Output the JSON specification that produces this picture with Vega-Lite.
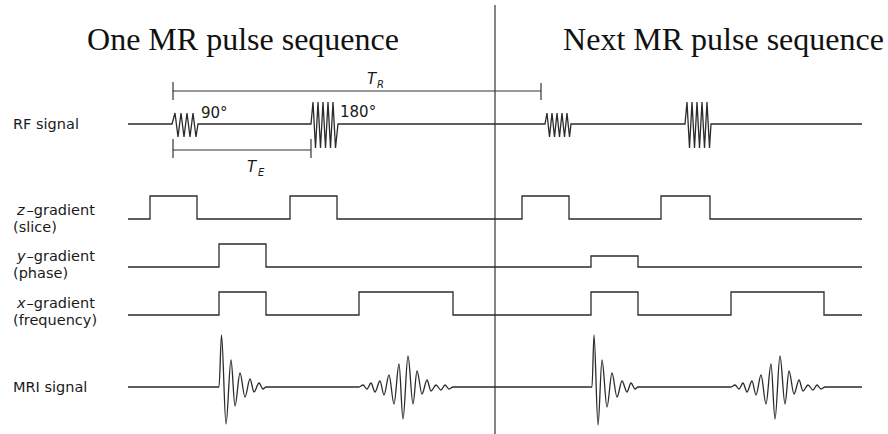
{
  "$schema": "https://vega.github.io/schema/vega-lite/v6.json",
  "width": 888,
  "height": 434,
  "padding": 0,
  "autosize": {"type": "none"},
  "background": "white",
  "config": {"view": {"stroke": null}, "axis": {"disable": true}},
  "datasets": {
    "guides": [
      {"part": "divider", "t": 495, "v": 5, "t2": 495, "v2": 434},
      {"part": "TR span", "t": 173, "v": 91, "t2": 541, "v2": 91},
      {"part": "TR start", "t": 173, "v": 82, "t2": 173, "v2": 100},
      {"part": "TR end", "t": 541, "v": 83, "t2": 541, "v2": 100},
      {"part": "TE span", "t": 173, "v": 150, "t2": 311, "v2": 150},
      {"part": "TE start", "t": 173, "v": 139, "t2": 173, "v2": 158},
      {"part": "TE end", "t": 311, "v": 139, "t2": 311, "v2": 158}
    ],
    "traces": [
      {"trace": "rf", "k": 0, "t": 128, "v": 124},
      {"trace": "rf", "k": 1, "t": 172, "v": 124},
      {"trace": "rf", "k": 2, "t": 175, "v": 113},
      {"trace": "rf", "k": 3, "t": 178, "v": 137},
      {"trace": "rf", "k": 4, "t": 181, "v": 113},
      {"trace": "rf", "k": 5, "t": 184, "v": 137},
      {"trace": "rf", "k": 6, "t": 187, "v": 113},
      {"trace": "rf", "k": 7, "t": 190, "v": 137},
      {"trace": "rf", "k": 8, "t": 193, "v": 113},
      {"trace": "rf", "k": 9, "t": 196, "v": 137},
      {"trace": "rf", "k": 10, "t": 198, "v": 124},
      {"trace": "rf", "k": 11, "t": 311, "v": 124},
      {"trace": "rf", "k": 12, "t": 313, "v": 102},
      {"trace": "rf", "k": 13, "t": 315.5, "v": 148},
      {"trace": "rf", "k": 14, "t": 318, "v": 102},
      {"trace": "rf", "k": 15, "t": 320.5, "v": 148},
      {"trace": "rf", "k": 16, "t": 323, "v": 102},
      {"trace": "rf", "k": 17, "t": 325.5, "v": 148},
      {"trace": "rf", "k": 18, "t": 328, "v": 102},
      {"trace": "rf", "k": 19, "t": 330.5, "v": 148},
      {"trace": "rf", "k": 20, "t": 333, "v": 102},
      {"trace": "rf", "k": 21, "t": 335.5, "v": 148},
      {"trace": "rf", "k": 22, "t": 338, "v": 124},
      {"trace": "rf", "k": 23, "t": 545, "v": 124},
      {"trace": "rf", "k": 24, "t": 547, "v": 113},
      {"trace": "rf", "k": 25, "t": 549.5, "v": 137},
      {"trace": "rf", "k": 26, "t": 552, "v": 113},
      {"trace": "rf", "k": 27, "t": 554.5, "v": 137},
      {"trace": "rf", "k": 28, "t": 557, "v": 113},
      {"trace": "rf", "k": 29, "t": 559.5, "v": 137},
      {"trace": "rf", "k": 30, "t": 562, "v": 113},
      {"trace": "rf", "k": 31, "t": 564.5, "v": 137},
      {"trace": "rf", "k": 32, "t": 567, "v": 113},
      {"trace": "rf", "k": 33, "t": 569.5, "v": 137},
      {"trace": "rf", "k": 34, "t": 571, "v": 124},
      {"trace": "rf", "k": 35, "t": 685, "v": 124},
      {"trace": "rf", "k": 36, "t": 687, "v": 102},
      {"trace": "rf", "k": 37, "t": 689.5, "v": 148},
      {"trace": "rf", "k": 38, "t": 692, "v": 102},
      {"trace": "rf", "k": 39, "t": 694.5, "v": 148},
      {"trace": "rf", "k": 40, "t": 697, "v": 102},
      {"trace": "rf", "k": 41, "t": 699.5, "v": 148},
      {"trace": "rf", "k": 42, "t": 702, "v": 102},
      {"trace": "rf", "k": 43, "t": 704.5, "v": 148},
      {"trace": "rf", "k": 44, "t": 707, "v": 102},
      {"trace": "rf", "k": 45, "t": 709.5, "v": 148},
      {"trace": "rf", "k": 46, "t": 711, "v": 124},
      {"trace": "rf", "k": 47, "t": 862, "v": 124},

      {"trace": "z", "k": 0, "t": 128, "v": 219},
      {"trace": "z", "k": 1, "t": 150, "v": 219},
      {"trace": "z", "k": 2, "t": 150, "v": 196},
      {"trace": "z", "k": 3, "t": 197, "v": 196},
      {"trace": "z", "k": 4, "t": 197, "v": 219},
      {"trace": "z", "k": 5, "t": 290, "v": 219},
      {"trace": "z", "k": 6, "t": 290, "v": 196},
      {"trace": "z", "k": 7, "t": 337, "v": 196},
      {"trace": "z", "k": 8, "t": 337, "v": 219},
      {"trace": "z", "k": 9, "t": 522, "v": 219},
      {"trace": "z", "k": 10, "t": 522, "v": 196},
      {"trace": "z", "k": 11, "t": 569, "v": 196},
      {"trace": "z", "k": 12, "t": 569, "v": 219},
      {"trace": "z", "k": 13, "t": 661, "v": 219},
      {"trace": "z", "k": 14, "t": 661, "v": 196},
      {"trace": "z", "k": 15, "t": 710, "v": 196},
      {"trace": "z", "k": 16, "t": 710, "v": 219},
      {"trace": "z", "k": 17, "t": 862, "v": 219},

      {"trace": "y", "k": 0, "t": 128, "v": 267},
      {"trace": "y", "k": 1, "t": 219, "v": 267},
      {"trace": "y", "k": 2, "t": 219, "v": 244},
      {"trace": "y", "k": 3, "t": 266, "v": 244},
      {"trace": "y", "k": 4, "t": 266, "v": 267},
      {"trace": "y", "k": 5, "t": 591, "v": 267},
      {"trace": "y", "k": 6, "t": 591, "v": 256},
      {"trace": "y", "k": 7, "t": 638, "v": 256},
      {"trace": "y", "k": 8, "t": 638, "v": 267},
      {"trace": "y", "k": 9, "t": 862, "v": 267},

      {"trace": "x", "k": 0, "t": 128, "v": 315},
      {"trace": "x", "k": 1, "t": 219, "v": 315},
      {"trace": "x", "k": 2, "t": 219, "v": 292},
      {"trace": "x", "k": 3, "t": 266, "v": 292},
      {"trace": "x", "k": 4, "t": 266, "v": 315},
      {"trace": "x", "k": 5, "t": 359, "v": 315},
      {"trace": "x", "k": 6, "t": 359, "v": 292},
      {"trace": "x", "k": 7, "t": 453, "v": 292},
      {"trace": "x", "k": 8, "t": 453, "v": 315},
      {"trace": "x", "k": 9, "t": 591, "v": 315},
      {"trace": "x", "k": 10, "t": 591, "v": 292},
      {"trace": "x", "k": 11, "t": 638, "v": 292},
      {"trace": "x", "k": 12, "t": 638, "v": 315},
      {"trace": "x", "k": 13, "t": 731, "v": 315},
      {"trace": "x", "k": 14, "t": 731, "v": 292},
      {"trace": "x", "k": 15, "t": 824, "v": 292},
      {"trace": "x", "k": 16, "t": 824, "v": 315},
      {"trace": "x", "k": 17, "t": 862, "v": 315}
    ],
    "mri": [
      {"k": 0, "t": 128, "v": 387},
      {"k": 1, "t": 219, "v": 387},
      {"k": 2, "t": 221.5, "v": 335},
      {"k": 3, "t": 226, "v": 424},
      {"k": 4, "t": 231, "v": 360},
      {"k": 5, "t": 235, "v": 406},
      {"k": 6, "t": 240, "v": 373},
      {"k": 7, "t": 245, "v": 397},
      {"k": 8, "t": 250, "v": 379},
      {"k": 9, "t": 254, "v": 392},
      {"k": 10, "t": 259, "v": 383},
      {"k": 11, "t": 263, "v": 389},
      {"k": 12, "t": 266, "v": 387},
      {"k": 13, "t": 359, "v": 387},
      {"k": 14, "t": 363, "v": 385},
      {"k": 15, "t": 367, "v": 389},
      {"k": 16, "t": 371, "v": 383},
      {"k": 17, "t": 375, "v": 392},
      {"k": 18, "t": 380, "v": 381},
      {"k": 19, "t": 384, "v": 395},
      {"k": 20, "t": 389, "v": 375},
      {"k": 21, "t": 394, "v": 404},
      {"k": 22, "t": 399, "v": 364},
      {"k": 23, "t": 403, "v": 419},
      {"k": 24, "t": 408, "v": 356},
      {"k": 25, "t": 413, "v": 404},
      {"k": 26, "t": 417, "v": 371},
      {"k": 27, "t": 422, "v": 394},
      {"k": 28, "t": 427, "v": 380},
      {"k": 29, "t": 431, "v": 391},
      {"k": 30, "t": 436, "v": 385},
      {"k": 31, "t": 441, "v": 390},
      {"k": 32, "t": 445, "v": 385},
      {"k": 33, "t": 449, "v": 389},
      {"k": 34, "t": 453, "v": 387},
      {"k": 35, "t": 592, "v": 387},
      {"k": 36, "t": 594, "v": 335},
      {"k": 37, "t": 598, "v": 425},
      {"k": 38, "t": 602, "v": 360},
      {"k": 39, "t": 607, "v": 407},
      {"k": 40, "t": 612, "v": 373},
      {"k": 41, "t": 617, "v": 397},
      {"k": 42, "t": 622, "v": 381},
      {"k": 43, "t": 627, "v": 392},
      {"k": 44, "t": 631, "v": 383},
      {"k": 45, "t": 635, "v": 389},
      {"k": 46, "t": 638, "v": 387},
      {"k": 47, "t": 731, "v": 387},
      {"k": 48, "t": 735, "v": 385},
      {"k": 49, "t": 739, "v": 389},
      {"k": 50, "t": 743, "v": 383},
      {"k": 51, "t": 747, "v": 392},
      {"k": 52, "t": 752, "v": 381},
      {"k": 53, "t": 756, "v": 395},
      {"k": 54, "t": 761, "v": 375},
      {"k": 55, "t": 766, "v": 404},
      {"k": 56, "t": 771, "v": 364},
      {"k": 57, "t": 775, "v": 419},
      {"k": 58, "t": 780, "v": 356},
      {"k": 59, "t": 785, "v": 404},
      {"k": 60, "t": 789, "v": 371},
      {"k": 61, "t": 794, "v": 394},
      {"k": 62, "t": 799, "v": 380},
      {"k": 63, "t": 803, "v": 391},
      {"k": 64, "t": 808, "v": 385},
      {"k": 65, "t": 813, "v": 390},
      {"k": 66, "t": 817, "v": 385},
      {"k": 67, "t": 821, "v": 389},
      {"k": 68, "t": 825, "v": 387},
      {"k": 69, "t": 862, "v": 387}
    ],
    "titles": [
      {"label": "One MR pulse sequence", "t": 243, "v": 50},
      {"label": "Next MR pulse sequence", "t": 723.5, "v": 50}
    ],
    "labels": [
      {"label": "RF signal", "t": 13, "v": 129},
      {"label": "–gradient", "t": 26.5, "v": 215},
      {"label": "(slice)", "t": 13, "v": 232},
      {"label": "–gradient", "t": 26.5, "v": 261},
      {"label": "(phase)", "t": 13, "v": 278},
      {"label": "–gradient", "t": 26.5, "v": 308},
      {"label": "(frequency)", "t": 13, "v": 325},
      {"label": "MRI signal", "t": 13, "v": 392}
    ],
    "axisLetters": [
      {"label": "z", "t": 17, "v": 215},
      {"label": "y", "t": 17, "v": 261},
      {"label": "x", "t": 17, "v": 308}
    ],
    "angles": [
      {"label": "90°", "t": 201, "v": 118},
      {"label": "180°", "t": 340, "v": 117}
    ],
    "intervals": [
      {"label": "T", "t": 367, "v": 84},
      {"label": "T", "t": 247, "v": 172}
    ],
    "subscripts": [
      {"label": "R", "t": 377, "v": 88},
      {"label": "E", "t": 258, "v": 176}
    ]
  },
  "encoding": {
    "x": {"field": "t", "type": "quantitative", "scale": {"domain": [0, 888], "nice": false, "zero": false}},
    "y": {"field": "v", "type": "quantitative", "scale": {"domain": [0, 434], "reverse": true, "nice": false, "zero": false}}
  },
  "layer": [
    {
      "data": {"name": "guides"},
      "mark": {"type": "rule", "color": "#333333", "strokeWidth": 1.2},
      "encoding": {"x2": {"field": "t2"}, "y2": {"field": "v2"}}
    },
    {
      "data": {"name": "traces"},
      "mark": {"type": "line", "interpolate": "linear", "color": "#2b2b2b", "strokeWidth": 1.3},
      "encoding": {
        "detail": {"field": "trace", "type": "nominal"},
        "order": {"field": "k", "type": "quantitative"}
      }
    },
    {
      "data": {"name": "mri"},
      "mark": {"type": "line", "interpolate": "monotone", "color": "#2b2b2b", "strokeWidth": 1.3},
      "encoding": {"order": {"field": "k", "type": "quantitative"}}
    },
    {
      "data": {"name": "titles"},
      "mark": {"type": "text", "font": "Liberation Serif", "fontSize": 32, "align": "center", "baseline": "alphabetic", "color": "#111111"},
      "encoding": {"text": {"field": "label"}}
    },
    {
      "data": {"name": "labels"},
      "mark": {"type": "text", "font": "DejaVu Sans", "fontSize": 14.5, "align": "left", "baseline": "alphabetic", "color": "#1a1a1a"},
      "encoding": {"text": {"field": "label"}}
    },
    {
      "data": {"name": "axisLetters"},
      "mark": {"type": "text", "font": "DejaVu Sans", "fontSize": 14.5, "fontStyle": "italic", "align": "left", "baseline": "alphabetic", "color": "#1a1a1a"},
      "encoding": {"text": {"field": "label"}}
    },
    {
      "data": {"name": "angles"},
      "mark": {"type": "text", "font": "DejaVu Sans", "fontSize": 15, "align": "left", "baseline": "alphabetic", "color": "#1a1a1a"},
      "encoding": {"text": {"field": "label"}}
    },
    {
      "data": {"name": "intervals"},
      "mark": {"type": "text", "font": "DejaVu Sans", "fontSize": 15, "fontStyle": "italic", "align": "left", "baseline": "alphabetic", "color": "#1a1a1a"},
      "encoding": {"text": {"field": "label"}}
    },
    {
      "data": {"name": "subscripts"},
      "mark": {"type": "text", "font": "DejaVu Sans", "fontSize": 10, "fontStyle": "italic", "align": "left", "baseline": "alphabetic", "color": "#1a1a1a"},
      "encoding": {"text": {"field": "label"}}
    }
  ]
}
